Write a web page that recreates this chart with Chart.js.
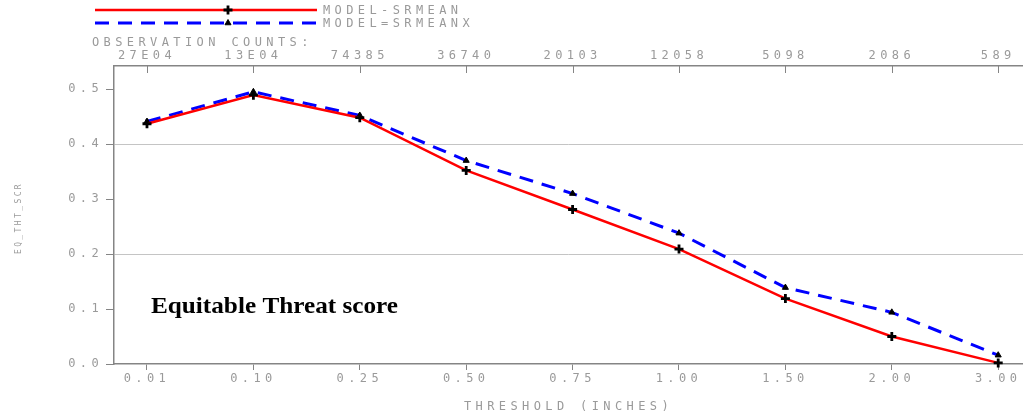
<!DOCTYPE html>
<html>
<head>
<meta charset="utf-8">
<script src="https://cdn.jsdelivr.net/npm/chart.js@4.4.0/dist/chart.umd.min.js"></script>
<style>
  html, body { margin: 0; padding: 0; background: #ffffff; }
  canvas { display: block; }
</style>
</head>
<body>
<canvas id="c" width="1023" height="415"></canvas>
<script>
// Precipitation thresholds (inches) and the observation count for each one
const thresholds = ['0.01', '0.10', '0.25', '0.50', '0.75', '1.00', '1.50', '2.00', '3.00'];
const obsCounts = ['27E04', '13E04', '74385', '36740', '20103', '12058', '5098', '2086', '589'];

// Equitable threat score per threshold for the two model runs
const srmean = [0.437, 0.489, 0.448, 0.352, 0.281, 0.209, 0.119, 0.050, 0.002];
const srmeanx = [0.441, 0.495, 0.452, 0.370, 0.310, 0.238, 0.139, 0.094, 0.016];

const seriesNames = ['MODEL-SRMEAN', 'MODEL=SRMEANX'];
const yTickStep = 0.1;
const yGridValues = [0.2, 0.4];

const MONO = "'DejaVu Sans Mono', 'Liberation Mono', monospace";
const MONO_SIZE = 12;
const GRAY_TEXT = '#9a9a9a';
const AXIS_GRAY = '#858585';
const SPACING = '4.4px';

const toPoints = vals => vals.map((v, i) => ({ x: i, y: v }));
const indexTicks = scale => { scale.ticks = thresholds.map((_, i) => ({ value: i })); };
const noSidePadding = (h) => s => { s.height = h; s.paddingLeft = 0; s.paddingRight = 0; };

const red = {
  label: seriesNames[0],
  data: toPoints(srmean),
  borderColor: '#ff0000',
  borderWidth: 2.5,
  pointStyle: 'cross',
  pointRadius: 4.5,
  pointBorderWidth: 2.8,
  pointBorderColor: '#000000',
  pointBackgroundColor: '#000000',
  tension: 0,
  clip: false,
  order: 0
};
const blue = {
  label: seriesNames[1],
  data: toPoints(srmeanx),
  borderColor: '#0000ff',
  borderWidth: 3,
  borderDash: [14, 9],
  pointStyle: 'triangle',
  pointRadius: 3.5,
  pointBorderWidth: 1,
  pointBorderColor: '#000000',
  pointBackgroundColor: '#000000',
  tension: 0,
  clip: false,
  order: 1
};

// Header texts, legend, inside ticks of the top axis and the caption
const decorations = {
  id: 'decorations',
  beforeUpdate(chart) { chart.ctx.letterSpacing = SPACING; },
  beforeDraw(chart) { chart.ctx.letterSpacing = SPACING; },
  afterDraw(chart) {
    const ctx = chart.ctx;
    const top = chart.scales.x2;
    ctx.save();

    // short tick marks hanging from the top axis into the plot
    ctx.strokeStyle = AXIS_GRAY;
    ctx.lineWidth = 1;
    thresholds.forEach((_, i) => {
      const x = Math.round(top.getPixelForValue(i)) + 0.5;
      ctx.beginPath();
      ctx.moveTo(x, top.bottom);
      ctx.lineTo(x, top.bottom + 7);
      ctx.stroke();
    });

    // legend: long line sample with a marker in the middle
    const sets = [red, blue];
    const rows = [10, 23];
    sets.forEach((ds, k) => {
      const y = rows[k];
      ctx.save();
      ctx.strokeStyle = ds.borderColor;
      ctx.lineWidth = ds.borderWidth;
      ctx.setLineDash(ds.borderDash || []);
      ctx.beginPath();
      ctx.moveTo(95, y);
      ctx.lineTo(317, y);
      ctx.stroke();
      ctx.restore();
      ctx.save();
      ctx.strokeStyle = '#000';
      ctx.fillStyle = '#000';
      ctx.lineWidth = ds.pointBorderWidth;
      Chart.helpers.drawPoint(ctx, {
        pointStyle: ds.pointStyle,
        radius: ds.pointRadius,
        borderWidth: ds.pointBorderWidth,
        rotation: 0
      }, 228, y);
      ctx.restore();
      ctx.fillStyle = GRAY_TEXT;
      ctx.font = MONO_SIZE + 'px ' + MONO;
      ctx.textAlign = 'left';
      ctx.textBaseline = 'middle';
      ctx.letterSpacing = SPACING;
      ctx.fillText(ds.label, 323, y + 1);
    });

    // heading above the count labels
    ctx.fillStyle = GRAY_TEXT;
    ctx.font = MONO_SIZE + 'px ' + MONO;
    ctx.textAlign = 'left';
    ctx.textBaseline = 'middle';
    ctx.letterSpacing = SPACING;
    ctx.fillText('OBSERVATION COUNTS:', 92, 43);

    // vertical axis name
    ctx.save();
    ctx.translate(19, (chart.chartArea.top + chart.chartArea.bottom) / 2 + 3);
    ctx.rotate(-Math.PI / 2);
    ctx.font = '8px ' + MONO;
    ctx.letterSpacing = '2.4px';
    ctx.textAlign = 'center';
    ctx.fillText('EQ_THT_SCR', 0, 0);
    ctx.restore();

    // caption inside the plot
    ctx.letterSpacing = '0px';
    ctx.fillStyle = '#000000';
    ctx.font = "bold 24px 'Liberation Serif', 'Times New Roman', serif";
    ctx.textAlign = 'left';
    ctx.textBaseline = 'alphabetic';
    const cap = 'Equitable Threat score';
    const w = ctx.measureText(cap).width;
    ctx.save();
    ctx.translate(151, 313);
    ctx.scale(247 / w, 1);
    ctx.fillText(cap, 0, 0);
    ctx.restore();

    ctx.restore();
    ctx.letterSpacing = SPACING;
  }
};

const xMin = -0.31, xMax = 8.233;

new Chart(document.getElementById('c'), {
  type: 'line',
  data: { datasets: [blue, red] },
  plugins: [decorations],
  options: {
    responsive: false,
    devicePixelRatio: 1,
    animation: false,
    layout: { padding: 0, autoPadding: false },
    plugins: { legend: { display: false }, tooltip: { enabled: false } },
    scales: {
      x: {
        type: 'linear',
        position: 'bottom',
        min: xMin,
        max: xMax,
        afterBuildTicks: indexTicks,
        afterFit: noSidePadding(51),
        ticks: {
          autoSkip: false,
          maxRotation: 0,
          padding: 2,
          color: GRAY_TEXT,
          font: { family: MONO, size: MONO_SIZE },
          callback: v => thresholds[v]
        },
        grid: { drawOnChartArea: false, tickLength: 6, tickColor: AXIS_GRAY, color: AXIS_GRAY },
        border: { color: AXIS_GRAY, width: 1.5 },
        title: {
          display: true,
          text: 'THRESHOLD (INCHES)',
          color: GRAY_TEXT,
          font: { family: MONO, size: MONO_SIZE },
          padding: { top: 0, bottom: 1 }
        }
      },
      x2: {
        type: 'linear',
        position: 'top',
        min: xMin,
        max: xMax,
        afterBuildTicks: indexTicks,
        afterFit: noSidePadding(66),
        ticks: {
          autoSkip: false,
          maxRotation: 0,
          padding: 3,
          color: GRAY_TEXT,
          font: { family: MONO, size: MONO_SIZE },
          callback: v => obsCounts[v]
        },
        grid: { drawOnChartArea: false, drawTicks: false },
        border: { color: AXIS_GRAY, width: 1.5 }
      },
      y: {
        type: 'linear',
        position: 'left',
        min: 0,
        max: 0.542,
        afterFit: s => { s.width = 114; },
        ticks: {
          stepSize: yTickStep,
          includeBounds: false,
          padding: 3,
          color: GRAY_TEXT,
          font: { family: MONO, size: MONO_SIZE },
          callback: v => v.toFixed(1)
        },
        grid: {
          tickLength: 8,
          tickColor: AXIS_GRAY,
          lineWidth: 1,
          color: c => (c.tick && yGridValues.some(g => Math.abs(g - c.tick.value) < 1e-6)) ? '#c4c4c4' : 'rgba(0,0,0,0)'
        },
        border: { color: AXIS_GRAY, width: 1.5 }
      }
    }
  }
});
</script>
</body>
</html>
